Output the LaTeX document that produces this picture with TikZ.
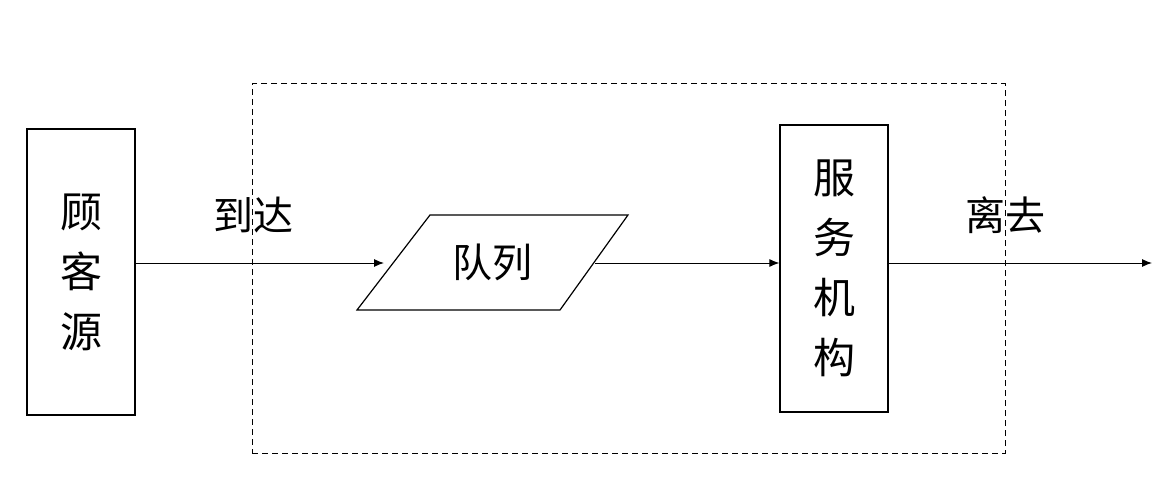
\documentclass[tikz,border=0pt]{standalone}
\usepackage{fontspec}
\newfontfamily\cjk{Noto Sans CJK SC}
\usetikzlibrary{arrows.meta}
\tikzset{
  vbox/.style = {draw, line width = 1.2pt, minimum width = 108pt, align = center, font = \cjk\fontsize{42}{60}\selectfont},
  flow/.style = {-{Latex[length=10pt, width=8pt]}, line width = 1pt},
  lbl/.style = {font = \cjk\fontsize{40}{42}\selectfont}
}
\begin{document}
\begin{tikzpicture}[x = 1pt, y = -1pt]
        \useasboundingbox (0, 0) rectangle (1154, 500);
        % Nodes
        \node [draw, dash pattern = on 6pt off 4pt, line width = 1pt, minimum width = 753pt, minimum height = 369pt] (sys) at (628.5, 268.5) {};
        \node [vbox, minimum height = 286pt] (src) at (81, 272) {顾\\客\\源};
        \node [vbox, minimum height = 287pt] (srv) at (834, 268.5) {服\\务\\机\\构};
        % queue
        \draw [line width = 1.2pt] (357, 310) -- (430, 215) -- (628, 215) -- (560, 310) -- cycle;
        \node [lbl] (q) at (492.5, 262.5) {队列};
        \coordinate (qin) at (384, 263);
        \coordinate (qout) at (595, 263);
        \coordinate (out) at (1152, 263);

        % Draw the links
        \draw [flow] (src.east |- qin) -- (qin);
        \draw [flow] (qout) -- (srv.west |- qin);
        \draw [flow] (srv.east |- out) -- (out);

        % Labels
        \node [lbl] (arr) at (253, 215) {到达};
        \node [lbl] (dep) at (1005, 215) {离去};
    \end{tikzpicture}
\end{document}
